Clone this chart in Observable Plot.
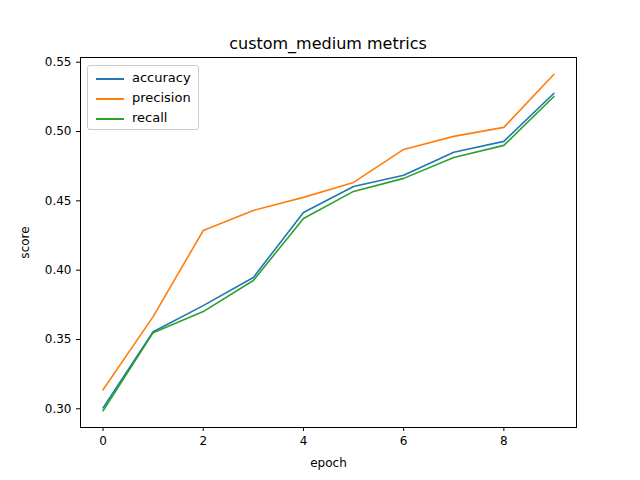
<!DOCTYPE html>
<html><head><meta charset="utf-8">
<script src="https://cdn.jsdelivr.net/npm/d3@7"></script>
<script src="https://cdn.jsdelivr.net/npm/@observablehq/plot@0.6"></script>
<style>
body{margin:0;font-family:"DejaVu Sans";}
#wrap{position:relative;width:640px;height:480px;}
#title{position:absolute;top:34px;left:80px;width:496px;text-align:center;font-size:16px;}
#legend{position:absolute;left:87px;top:65px;width:112px;height:65px;border:1px solid #ccc;border-radius:3px;background:#fff;font-size:13px;box-sizing:border-box;padding:2px 0 0 8px;}
#legend div{height:20px;line-height:20px;}
#legend span{display:inline-block;width:28px;height:2px;vertical-align:middle;margin-right:8px;}
</style></head><body>
<div id="wrap"><div id="title">custom_medium metrics</div><div id="chart"></div><div id="legend"></div></div>
<script>
const epochs = [0,1,2,3,4,5,6,7,8,9];
const accuracy = [0.3007,0.3556,0.3744,0.3947,0.4416,0.4604,0.4684,0.485,0.4929,0.5276];
const precision = [0.3137,0.3665,0.4286,0.4431,0.4525,0.4633,0.4871,0.4965,0.503,0.5413];
const recall = [0.2986,0.3549,0.3701,0.3925,0.4373,0.4568,0.4662,0.4813,0.49,0.5253];
const names = ["accuracy","precision","recall"];
const colors = ["#1f77b4","#ff7f0e","#2ca02c"];
const series = [accuracy, precision, recall];
const rows = [];
series.forEach((s,i)=>s.forEach((v,j)=>rows.push({epoch:epochs[j],score:v,metric:names[i]})));

const chart = Plot.plot({
  width:640,height:480,marginLeft:80,marginRight:64,marginTop:57,marginBottom:53,
  style:{fontFamily:"DejaVu Sans",fontSize:"12px"},
  x:{domain:[-0.45,9.45],ticks:[0,2,4,6,8],label:"epoch",labelAnchor:"center",labelArrow:"none",labelOffset:39,tickSize:4},
  y:{domain:[0.2865,0.5534],ticks:[0.30,0.35,0.40,0.45,0.50,0.55],tickFormat:d3.format(".2f"),label:"score",labelAnchor:"center",labelArrow:"none",labelOffset:60,tickSize:4},
  color:{domain:names,range:colors},
  marks:[
    Plot.frame({stroke:"#000"}),
    Plot.line(rows,{x:"epoch",y:"score",stroke:"metric",strokeWidth:1.6})
  ]
});
document.getElementById("chart").append(chart);
const lg = document.getElementById("legend");
names.forEach((n,i)=>{const d=document.createElement("div");d.innerHTML=`<span style="background:${colors[i]}"></span>${n}`;lg.append(d);});
</script></body></html>
